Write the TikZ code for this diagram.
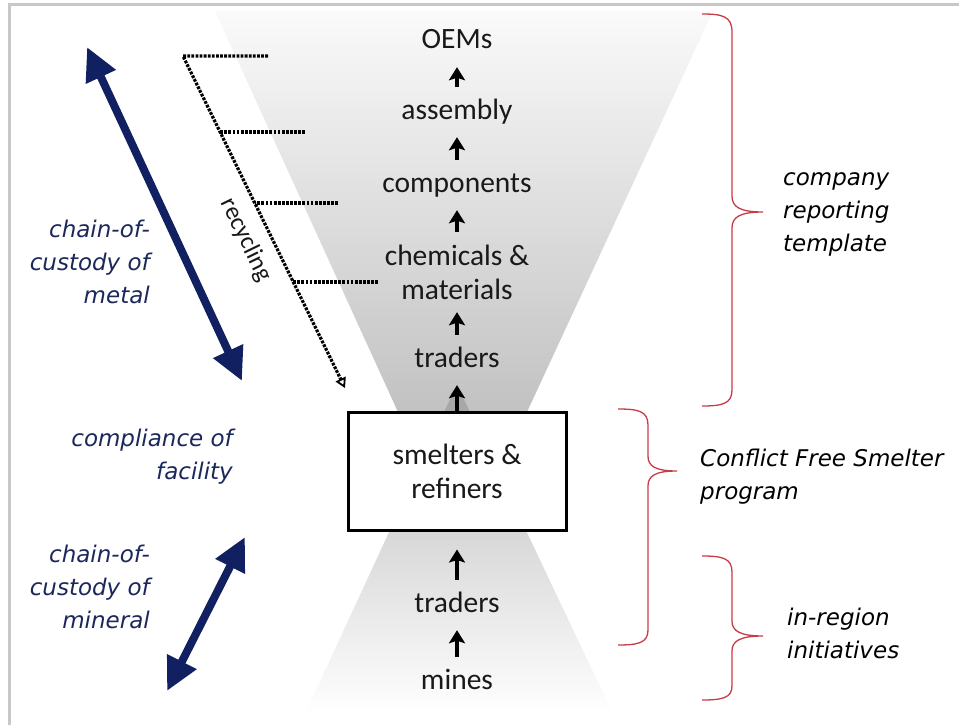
\documentclass[tikz,border=0pt]{standalone}
\usepackage{fontspec}
\setmainfont{Carlito}
\newfontfamily\labfont{DejaVu Sans}
\usetikzlibrary{arrows.meta}
\definecolor{navy}{RGB}{16,32,96}
\definecolor{navytext}{RGB}{28,40,92}
\definecolor{bracered}{RGB}{200,60,72}
\definecolor{framegray}{RGB}{200,200,200}
\begin{document}
\begin{tikzpicture}[x=1pt,y=-1pt,
  stage/.style={font=\fontsize{29.5}{34}\selectfont, inner sep=0pt, minimum height=50pt, text height=20pt, text depth=6pt, text=black!90},
  stagetwo/.style={font=\fontsize{29.5}{34}\selectfont, inner sep=0pt, minimum height=80pt, align=center, text=black!90},
  smeltbox/.style={draw=black, fill=white, line width=3pt, minimum width=218pt, minimum height=118pt, inner sep=0pt, align=center, font=\fontsize{29.5}{34}\selectfont, text=black!90},
  flow/.style={line width=3.6pt, -{Stealth[length=13pt,width=16pt,inset=2.5pt]}},
  dotline/.style={line width=3.2pt, dash pattern=on 2.8pt off 1.3pt, black},
  navyarrow/.style={line width=8pt, navy, {Triangle[length=33pt,width=31pt]}-{Triangle[length=33pt,width=31pt]}},
  leftlab/.style={font=\labfont\itshape\fontsize{23}{33}\selectfont, text=navytext, align=right, inner sep=0pt},
  rightlab/.style={font=\labfont\itshape\fontsize{23}{33}\selectfont, text=black, align=left, inner sep=0pt},
  bracepath/.style={bracered, line width=1.3pt}
]
\useasboundingbox (0,0) rectangle (959,725);
\fill[white] (0,0) rectangle (959,725);
% frame
\draw[framegray, line width=3pt] (9,725) -- (9,5) -- (959,5);

% funnels
\shade[top color=black!2, middle color=black!10, bottom color=black!24] (215,11) -- (713,11) -- (527,412) -- (398,412) -- cycle;
\shade[top color=black!28, bottom color=white] (457,385) -- (613,714) -- (305,714) -- cycle;
\fill[black!34] (457,385) -- (470,412) -- (444,412) -- cycle;

% stages
\node[stage] (oems) at (457,42) {OEMs};
\node[stage] (asm) at (457,112) {assembly};
\node[stage] (comp) at (457,185) {components};
\node[stagetwo] (chem) at (457,272) {chemicals \&\\materials};
\node[stage] (trd1) at (457,360) {traders};
\node[smeltbox] (smelt) at (457,471) {smelters \&\\refiners};
\node[stage] (trd2) at (457,605) {traders};
\node[stage] (mines) at (457,682) {mines};

\draw[flow] (asm.north) -- (oems.south);
\draw[flow] (comp.north) -- (asm.south);
\draw[flow] (chem.north) -- (comp.south);
\draw[flow] (trd1.north) -- (chem.south);
\draw[flow] (smelt.north) -- (trd1.south);
\draw[flow, shorten >=18pt] (trd2.north) -- (smelt.south);
\draw[flow] (mines.north) -- (trd2.south);

% recycling
\coordinate (r0) at (183,56);
\coordinate (r1) at (220,132);
\coordinate (r2) at (255,203);
\coordinate (r3) at (293,282);
\coordinate (rend) at (345,388);
\coordinate (h0) at (268,56);
\coordinate (h1) at (305,132);
\coordinate (h2) at (338,203);
\coordinate (h3) at (378,282);
\draw[dotline, -{Triangle[open,length=10pt,width=11pt,line width=1.8pt]}] (h0) -- (r0) -- (rend);
\draw[dotline] (h1) -- (r1);
\draw[dotline] (h2) -- (r2);
\draw[dotline] (h3) -- (r3);
\node[font=\fontsize{25}{28}\selectfont, rotate=-64, text=black!90, inner sep=0pt] (recy) at (246,240) {recycling};

% navy arrows
\coordinate (m1a) at (87,47);
\coordinate (m1b) at (242,381);
\coordinate (m2a) at (245,537);
\coordinate (m2b) at (167,691);
\draw[navyarrow] (m1a) -- (m1b);
\draw[navyarrow] (m2a) -- (m2b);

% left labels
\node[leftlab, anchor=east] (lmetal) at (150,262) {chain-of-\\custody of\\metal};
\node[leftlab, anchor=east] (lfac) at (233,457) {compliance of\\facility};
\node[leftlab, anchor=east] (lmin) at (150,587) {chain-of-\\custody of\\mineral};

% right labels
\node[rightlab, anchor=west] (rcomp) at (783,214) {company\\reporting\\template};
\node[rightlab, anchor=west] (rcfs) at (700,477) {Conflict Free Smelter\\program};
\node[rightlab, anchor=west] (rreg) at (787,633) {in-region\\initiatives};

% braces
\draw[bracepath] (702,14) .. controls (722,14) and (732,16) .. (732,32) -- (732,196)
  .. controls (732,207) and (740,212) .. (763,212)
  .. controls (740,212) and (732,217) .. (732,228) -- (732,390)
  .. controls (732,404) and (722,406) .. (702,406);
\draw[bracepath] (618,409) .. controls (638,409) and (648,411) .. (648,425) -- (648,456)
  .. controls (648,466) and (655,471) .. (677,471)
  .. controls (655,471) and (648,476) .. (648,486) -- (648,630)
  .. controls (648,643) and (638,645) .. (618,645);
\draw[bracepath] (702,556) .. controls (722,556) and (732,558) .. (732,572) -- (732,621)
  .. controls (732,631) and (740,636) .. (763,636)
  .. controls (740,636) and (732,641) .. (732,651) -- (732,686)
  .. controls (732,698) and (722,700) .. (702,700);
\end{tikzpicture}
\end{document}
